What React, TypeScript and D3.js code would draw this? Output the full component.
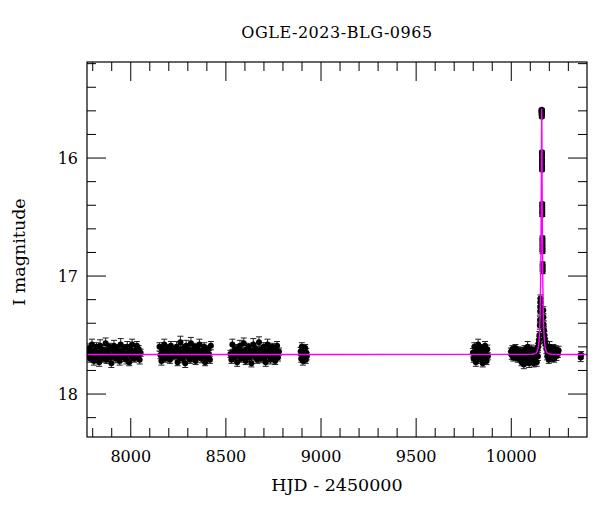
import React from "react";
import * as d3 from "d3";

type Obs = [number, number, number]; // [HJD-2450000, I mag, error]

const TITLE = "OGLE-2023-BLG-0965";
const X_LABEL = "HJD - 2450000";
const Y_LABEL = "I magnitude";

const xMajorTicks = [8000, 8500, 9000, 9500, 10000];
const yMajorTicks = [16, 17, 18];

const season1: Obs[] = [
  [7777, 17.66, 0.03], [7782, 17.61, 0.035], [7786, 17.7, 0.03], [7791, 17.64, 0.03], [7796, 17.58, 0.045],
  [7801, 17.68, 0.03], [7806, 17.72, 0.035], [7810, 17.63, 0.03], [7815, 17.67, 0.03], [7820, 17.6, 0.035],
  [7825, 17.69, 0.03], [7830, 17.65, 0.03], [7834, 17.73, 0.035], [7839, 17.59, 0.05], [7844, 17.66, 0.03],
  [7849, 17.62, 0.03], [7854, 17.7, 0.03], [7858, 17.64, 0.035], [7863, 17.68, 0.03], [7868, 17.57, 0.045],
  [7873, 17.71, 0.03], [7878, 17.63, 0.03], [7883, 17.66, 0.035], [7888, 17.6, 0.03], [7893, 17.69, 0.03],
  [7898, 17.74, 0.035], [7903, 17.62, 0.03], [7908, 17.67, 0.03], [7912, 17.59, 0.045], [7917, 17.65, 0.03],
  [7922, 17.7, 0.035], [7927, 17.61, 0.03], [7932, 17.68, 0.03], [7937, 17.64, 0.03], [7942, 17.72, 0.035],
  [7947, 17.58, 0.05], [7952, 17.66, 0.03], [7957, 17.63, 0.03], [7962, 17.69, 0.035], [7967, 17.61, 0.03],
  [7972, 17.67, 0.03], [7977, 17.71, 0.035], [7982, 17.6, 0.045], [7987, 17.65, 0.03], [7992, 17.73, 0.03],
  [7997, 17.62, 0.035], [8002, 17.68, 0.03], [8007, 17.58, 0.045], [8012, 17.64, 0.03], [8017, 17.7, 0.03],
  [8022, 17.63, 0.035], [8027, 17.66, 0.03], [8032, 17.59, 0.035], [8037, 17.69, 0.03], [8042, 17.62, 0.03],
  [8047, 17.71, 0.035], [8052, 17.65, 0.03],
];

const season2: Obs[] = [
  [8151, 17.6, 0.035], [8156, 17.67, 0.03], [8161, 17.72, 0.035], [8166, 17.62, 0.03], [8171, 17.66, 0.03],
  [8176, 17.58, 0.045], [8181, 17.7, 0.03], [8186, 17.63, 0.03], [8191, 17.68, 0.035], [8196, 17.61, 0.03],
  [8201, 17.65, 0.03], [8206, 17.71, 0.03], [8211, 17.59, 0.035], [8216, 17.66, 0.03], [8221, 17.63, 0.03],
  [8226, 17.68, 0.03], [8231, 17.64, 0.03], [8236, 17.67, 0.03], [8241, 17.6, 0.045], [8246, 17.73, 0.03],
  [8251, 17.62, 0.035], [8256, 17.69, 0.03], [8261, 17.56, 0.05], [8266, 17.65, 0.03], [8271, 17.7, 0.035],
  [8276, 17.61, 0.03], [8281, 17.67, 0.03], [8286, 17.74, 0.035], [8291, 17.59, 0.045], [8296, 17.64, 0.03],
  [8301, 17.68, 0.03], [8306, 17.62, 0.035], [8311, 17.71, 0.03], [8316, 17.57, 0.05], [8321, 17.66, 0.03],
  [8326, 17.63, 0.03], [8331, 17.69, 0.035], [8336, 17.6, 0.03], [8341, 17.72, 0.03], [8346, 17.65, 0.035],
  [8351, 17.61, 0.03], [8356, 17.68, 0.03], [8361, 17.58, 0.045], [8366, 17.66, 0.03], [8371, 17.7, 0.035],
  [8376, 17.63, 0.03], [8381, 17.67, 0.03], [8386, 17.6, 0.035], [8391, 17.73, 0.03], [8396, 17.64, 0.03],
  [8401, 17.69, 0.035], [8406, 17.62, 0.03], [8411, 17.66, 0.03], [8416, 17.71, 0.03], [8421, 17.59, 0.035],
];

const season3: Obs[] = [
  [8524, 17.66, 0.03], [8529, 17.71, 0.03], [8534, 17.58, 0.045], [8539, 17.65, 0.03], [8544, 17.69, 0.03],
  [8549, 17.62, 0.035], [8554, 17.67, 0.03], [8559, 17.73, 0.035], [8564, 17.61, 0.03], [8569, 17.66, 0.03],
  [8574, 17.59, 0.045], [8579, 17.7, 0.03], [8584, 17.64, 0.03], [8589, 17.68, 0.035], [8594, 17.57, 0.045],
  [8599, 17.66, 0.03], [8604, 17.72, 0.03], [8609, 17.62, 0.035], [8614, 17.67, 0.03], [8619, 17.6, 0.03],
  [8624, 17.69, 0.035], [8629, 17.63, 0.03], [8634, 17.74, 0.03], [8639, 17.65, 0.03], [8644, 17.58, 0.05],
  [8649, 17.68, 0.03], [8654, 17.61, 0.035], [8659, 17.66, 0.03], [8664, 17.71, 0.03], [8669, 17.63, 0.035],
  [8674, 17.56, 0.045], [8679, 17.67, 0.03], [8684, 17.7, 0.035], [8689, 17.62, 0.03], [8694, 17.65, 0.03],
  [8699, 17.6, 0.035], [8704, 17.69, 0.03], [8709, 17.73, 0.035], [8714, 17.64, 0.03], [8719, 17.58, 0.045],
  [8724, 17.67, 0.03], [8729, 17.62, 0.03], [8734, 17.71, 0.035], [8739, 17.66, 0.03], [8744, 17.6, 0.03],
  [8749, 17.68, 0.035], [8754, 17.63, 0.03], [8759, 17.72, 0.03], [8764, 17.65, 0.035], [8769, 17.59, 0.035],
  [8774, 17.69, 0.03], [8779, 17.64, 0.03],
];

const season4: Obs[] = [
  [8893, 17.64, 0.035], [8896, 17.7, 0.03], [8899, 17.6, 0.035], [8902, 17.67, 0.03], [8905, 17.72, 0.035],
  [8908, 17.62, 0.03], [8911, 17.66, 0.03], [8914, 17.69, 0.035], [8917, 17.61, 0.03], [8920, 17.71, 0.03],
  [8923, 17.65, 0.035], [8925, 17.68, 0.03],
];

const season5: Obs[] = [
  [9798, 17.65, 0.035], [9802, 17.7, 0.03], [9806, 17.6, 0.035], [9810, 17.67, 0.03], [9814, 17.73, 0.035],
  [9818, 17.62, 0.03], [9822, 17.66, 0.03], [9826, 17.58, 0.045], [9830, 17.69, 0.03], [9834, 17.64, 0.035],
  [9838, 17.71, 0.03], [9842, 17.61, 0.03], [9846, 17.67, 0.035], [9850, 17.74, 0.03], [9854, 17.63, 0.03],
  [9858, 17.68, 0.035], [9862, 17.59, 0.035], [9866, 17.66, 0.03], [9870, 17.72, 0.03], [9874, 17.62, 0.035],
  [9877, 17.68, 0.03],
];

const season6: Obs[] = [
  [9998, 17.64, 0.03], [10002, 17.67, 0.035], [10006, 17.62, 0.03], [10010, 17.69, 0.03], [10014, 17.63, 0.035],
  [10018, 17.66, 0.03], [10022, 17.61, 0.03], [10026, 17.68, 0.035], [10030, 17.65, 0.03], [10034, 17.7, 0.03],
  [10038, 17.63, 0.03], [10042, 17.67, 0.035], [10046, 17.64, 0.03], [10050, 17.69, 0.035], [10054, 17.73, 0.03],
  [10058, 17.64, 0.035], [10062, 17.7, 0.03], [10066, 17.75, 0.035], [10070, 17.62, 0.03], [10074, 17.68, 0.03],
  [10078, 17.72, 0.035], [10082, 17.66, 0.03], [10086, 17.6, 0.045], [10090, 17.71, 0.03], [10094, 17.74, 0.035],
  [10098, 17.65, 0.03], [10102, 17.69, 0.03], [10106, 17.62, 0.035], [10110, 17.72, 0.03], [10114, 17.67, 0.035],
  [10118, 17.74, 0.03], [10122, 17.63, 0.03], [10126, 17.7, 0.035], [10130, 17.66, 0.03], [10134, 17.73, 0.035],
  [10137, 17.62, 0.03], [10140, 17.68, 0.035],
  [10185, 17.62, 0.035], [10189, 17.68, 0.03], [10193, 17.64, 0.035], [10197, 17.71, 0.03], [10201, 17.6, 0.045],
  [10205, 17.66, 0.03], [10209, 17.69, 0.035], [10213, 17.63, 0.03], [10217, 17.67, 0.035], [10221, 17.61, 0.03],
  [10225, 17.7, 0.03], [10229, 17.65, 0.035], [10233, 17.62, 0.03], [10237, 17.68, 0.035], [10241, 17.64, 0.03],
  [10245, 17.66, 0.03], [10249, 17.63, 0.035],
];

// points on the event itself
const eventObs: Obs[] = [
  [10141, 17.6, 0.03], [10144, 17.57, 0.03], [10146, 17.54, 0.03], [10148, 17.5, 0.03], [10150, 17.42, 0.03],
  [10151, 17.37, 0.03], [10152, 17.3, 0.03], [10152.5, 17.26, 0.03], [10153, 17.22, 0.03], [10153.5, 17.19, 0.03],
  [10159.9, 15.6, 0.01], [10160, 15.59, 0.01], [10160.1, 15.6, 0.01], [10160.2, 15.61, 0.01], [10160.3, 15.62, 0.01],
  [10160.4, 15.63, 0.01], [10160.5, 15.65, 0.01],
  [10161.3, 15.95, 0.01], [10161.4, 15.98, 0.01], [10161.5, 16.01, 0.01], [10161.6, 16.04, 0.01],
  [10161.7, 16.07, 0.01], [10161.8, 16.1, 0.01],
  [10162.55, 16.39, 0.015], [10162.65, 16.42, 0.015], [10162.75, 16.45, 0.015], [10162.85, 16.48, 0.015],
  [10163.7, 16.68, 0.02], [10163.8, 16.71, 0.02], [10163.9, 16.74, 0.02], [10164, 16.77, 0.02], [10164.1, 16.79, 0.02],
  [10164.7, 16.9, 0.02], [10164.85, 16.93, 0.02], [10165, 16.96, 0.02],
  [10168, 17.29, 0.03], [10169, 17.35, 0.03], [10170, 17.41, 0.03], [10172, 17.46, 0.03], [10174, 17.5, 0.03],
  [10176, 17.53, 0.03], [10178, 17.56, 0.03], [10181, 17.58, 0.03],
];

const season7: Obs[] = [
  [10365, 17.69, 0.035], [10367, 17.67, 0.03],
];

// model light curve
const peakTime = 10160;
const baselineMag = 17.665;
const modelDt = [0, 0.5, 1, 1.5, 2, 3, 4, 5, 6, 8, 10, 13, 16, 20, 25, 35, 60];
const modelMag = [15.582, 15.652, 15.82, 16.016, 16.203, 16.518, 16.757, 16.941, 17.083, 17.283,
  17.413, 17.518, 17.578, 17.618, 17.642, 17.657, 17.664];

const W = 600;
const H = 512;
const left = 87, right = 587, top = 62, bottom = 437;
const FONT = "'DejaVu Serif', 'Liberation Serif', serif";

export default function App() {
  const x = d3.scaleLinear().domain([7770, 10398]).range([left, right]);
  const y = d3.scaleLinear().domain([15.186, 18.364]).range([top, bottom]);

  const allObs = [...season1, ...season2, ...season3, ...season4, ...season5, ...season6, ...eventObs, ...season7];

  const modelPts: [number, number][] = [
    [7770, baselineMag],
    ...modelDt.slice().reverse().map((d, i) => [peakTime - d, modelMag[modelDt.length - 1 - i]] as [number, number]),
    ...modelDt.slice(1).map((d, i) => [peakTime + d, modelMag[i + 1]] as [number, number]),
    [10398, baselineMag],
  ];
  const line = d3
    .line<[number, number]>()
    .x((d) => x(d[0]))
    .y((d) => y(d[1]))
    .curve(d3.curveMonotoneX);

  const xMinor = d3.range(7800, 10400, 100).filter((v) => !xMajorTicks.includes(v));
  const yMinor = d3.range(15.2, 18.3, 0.2).map((v) => +v.toFixed(1)).filter((v) => !yMajorTicks.includes(v));

  const majLen = 19;
  const minLen = 9;

  return (
    <svg width={W} height={H} style={{ position: "absolute", left: 0, top: 0 }} fontFamily={FONT}>
      <rect width={W} height={H} fill="#fff" />
      <defs>
        <clipPath id="plotArea">
          <rect x={left} y={top} width={right - left} height={bottom - top} />
        </clipPath>
      </defs>

      <g clipPath="url(#plotArea)">
        {/* error bars */}
        <g stroke="#222" strokeWidth={1} fill="none">
          {allObs.map((d, i) => {
            const cx = x(d[0]);
            const y1 = y(d[1] - d[2]);
            const y2 = y(d[1] + d[2]);
            return (
              <path
                key={i}
                d={`M${cx},${y1}V${y2}M${cx - 3},${y1}H${cx + 3}M${cx - 3},${y2}H${cx + 3}`}
              />
            );
          })}
        </g>
        {/* points */}
        <g fill="#000">
          {allObs.map((d, i) => (
            <circle key={i} cx={x(d[0])} cy={y(d[1])} r={3} />
          ))}
        </g>
        <path d={line(modelPts) || ""} fill="none" stroke="#ff00ff" strokeWidth={1.4} />
      </g>

      {/* frame */}
      <rect x={left} y={top} width={right - left} height={bottom - top} fill="none" stroke="#000" strokeWidth={1.2} />

      {/* ticks */}
      <g stroke="#000" strokeWidth={1}>
        {xMajorTicks.map((v) => (
          <g key={"xM" + v}>
            <line x1={x(v)} x2={x(v)} y1={bottom} y2={bottom - majLen} />
            <line x1={x(v)} x2={x(v)} y1={top} y2={top + majLen} />
          </g>
        ))}
        {xMinor.map((v) => (
          <g key={"xm" + v}>
            <line x1={x(v)} x2={x(v)} y1={bottom} y2={bottom - minLen} />
            <line x1={x(v)} x2={x(v)} y1={top} y2={top + minLen} />
          </g>
        ))}
        {yMajorTicks.map((v) => (
          <g key={"yM" + v}>
            <line x1={left} x2={left + majLen} y1={y(v)} y2={y(v)} />
            <line x1={right} x2={right - majLen} y1={y(v)} y2={y(v)} />
          </g>
        ))}
        {yMinor.map((v) => (
          <g key={"ym" + v}>
            <line x1={left} x2={left + minLen} y1={y(v)} y2={y(v)} />
            <line x1={right} x2={right - minLen} y1={y(v)} y2={y(v)} />
          </g>
        ))}
      </g>

      {/* tick labels */}
      <g fontSize={16} fill="#000">
        {xMajorTicks.map((v) => (
          <text key={"xl" + v} x={x(v)} y={462} textAnchor="middle">
            {v}
          </text>
        ))}
        {yMajorTicks.map((v) => (
          <text key={"yl" + v} x={78} y={y(v) + 5.8} textAnchor="end">
            {v}
          </text>
        ))}
      </g>

      <text x={(left + right) / 2} y={37.5} textAnchor="middle" fontSize={16} letterSpacing={0.55}>
        {TITLE}
      </text>
      <text x={(left + right) / 2} y={490.5} textAnchor="middle" fontSize={17.5}>
        {X_LABEL}
      </text>
      <text transform={`translate(25,252) rotate(-90)`} textAnchor="middle" fontSize={17.5}>
        {Y_LABEL}
      </text>
    </svg>
  );
}
